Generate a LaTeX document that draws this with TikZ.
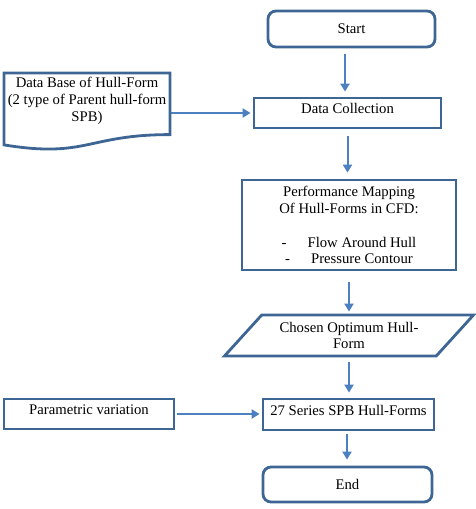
\documentclass[tikz,border=0pt]{standalone}
\usepackage{fontspec}
\setmainfont{Liberation Serif}
\usetikzlibrary{arrows.meta,shapes.geometric,calc}
\definecolor{boxblue}{RGB}{62,102,148}
\definecolor{arrowblue}{RGB}{76,128,190}
\begin{document}
\begin{tikzpicture}[x=1pt,y=-1pt,
  every node/.style={font=\fontsize{14.7}{16.9}\selectfont, text=black},
  boxbase/.style={draw=boxblue, line width=2.8pt, rectangle, align=center, inner sep=2pt},
  termbox/.style={boxbase, rounded corners=8pt},
  raised/.style={text height=10pt, text depth=9pt},
  arr/.style={draw=arrowblue, line width=2pt, -{Triangle[length=8pt,width=9pt]}}
]
\useasboundingbox (0,0) rectangle (475,509);

% nodes
\node[termbox, minimum width=167pt, minimum height=36pt] (start) at (351.5,29) {Start};
\node[boxbase, raised, minimum width=187pt, minimum height=30pt] (dc) at (347.5,113) {Data Collection};
\node[draw=none, align=center, inner sep=1pt, outer sep=0pt, minimum width=166pt, minimum height=55pt] (db) at (87,100.5)
  {Data Base of Hull-Form\\(2 type of Parent hull-form\\SPB)};
\draw[draw=boxblue, line width=2.8pt, line join=miter]
  (db.north west) -- (db.north east) -- ($(db.north east)+(0,61.6)$)
  .. controls ($(db.north)+(0,61.6)$) and ($(db.north)+(0,85.4)$) .. ($(db.north west)+(0,71.9)$) -- cycle;
\node[boxbase, minimum width=214pt, minimum height=90pt] (perf) at (349,225)
  {Performance Mapping\\Of Hull-Forms in CFD:\\[16.9pt]-\hspace{21pt}Flow Around Hull\\-\hspace{21pt}Pressure Contour};
\node[boxbase, trapezium, trapezium left angle=40, trapezium right angle=140, trapezium stretches body,
  minimum width=249pt, minimum height=41pt, inner xsep=0pt] (chosen) at (349,335.5)
  {Chosen Optimum Hull-\\Form};
\node[boxbase, raised, minimum width=171pt, minimum height=31pt] (series) at (348.5,414.5) {27 Series SPB Hull-Forms};
\node[boxbase, raised, minimum width=170pt, minimum height=30pt] (param) at (89,414) {Parametric variation};
\node[termbox, minimum width=169pt, minimum height=35pt] (end) at (347.5,484.5) {End};

% connectors
\draw[arr, shorten <=6pt, shorten >=5pt] ([xshift=-2.5pt]dc.north |- start.south) -- ([xshift=-2.5pt]dc.north);
\draw[arr, shorten <=7pt, shorten >=6pt] (dc.south) -- (dc.south |- perf.north);
\draw[arr, shorten <=11pt, shorten >=2pt] (perf.south) -- (perf.south |- chosen.north);
\draw[arr, shorten <=5pt, shorten >=5pt] (chosen.south) -- (chosen.south |- series.north);
\draw[arr, shorten <=3pt, shorten >=6pt] ([xshift=-1.5pt]series.south) -- ([xshift=-1.5pt]series.south |- end.north);
\draw[arr, shorten <=1pt, shorten >=2pt] (db.east |- dc.west) -- (dc.west);
\draw[arr, shorten <=2pt, shorten >=2pt] (param.east) -- (series.west |- param.east);
\end{tikzpicture}
\end{document}
